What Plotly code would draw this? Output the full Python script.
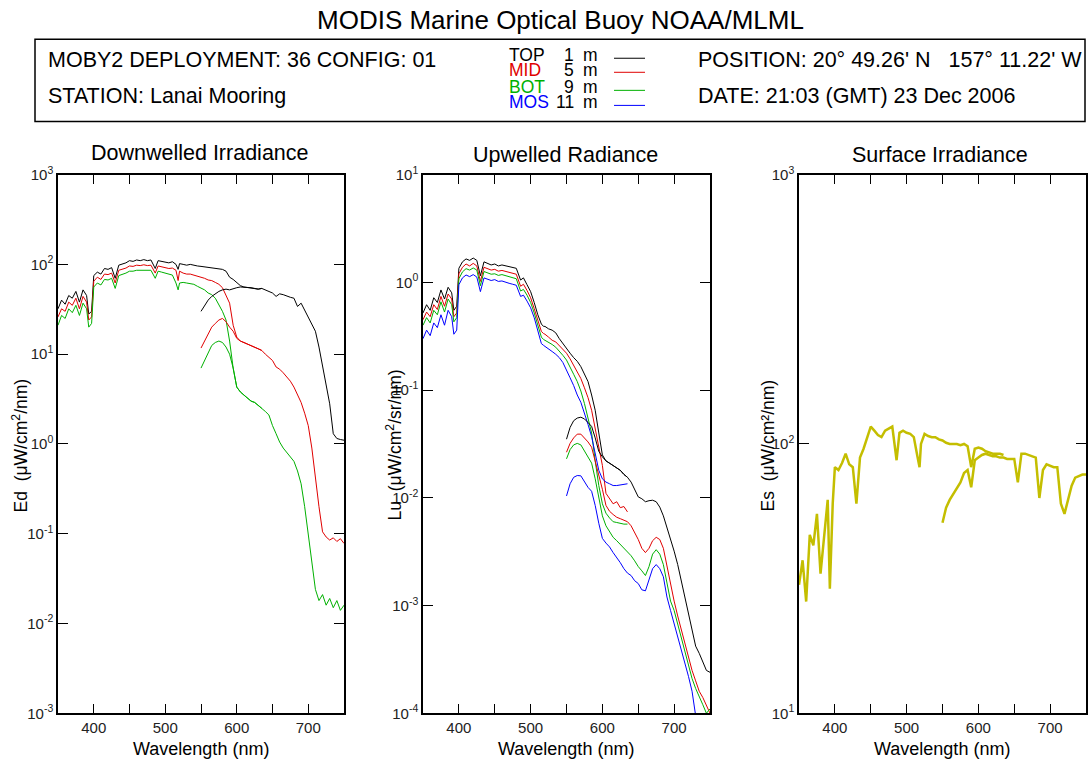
import plotly.graph_objects as go

W, H = 1088, 761

# ---------------- data ----------------
# blue-spectrograph wavelength grid (nm)
WL_BLUE = [350, 355, 360, 365, 370, 375, 380, 385, 390, 393,
           397, 400, 405, 410, 415, 420, 425, 430, 435, 440,
           445, 450, 455, 460, 465, 470, 475, 480, 486, 490,
           495, 500, 505, 510, 515, 518, 520, 525, 530, 535,
           540, 545, 550, 555, 560, 565, 570, 575, 580, 585,
           590, 595, 600, 605, 610, 615, 620, 625, 630, 635]
# red-spectrograph wavelength grid (nm)
WL_RED = [550, 555, 560, 565, 570, 575, 580, 585, 590, 595,
          600, 605, 610, 615, 620, 625, 630, 635, 640, 645,
          650, 655, 660, 665, 670, 675, 680, 685, 690, 695,
          700, 705, 710, 715, 720, 725, 730, 735, 740, 745,
          750]

# Downwelled irradiance Ed, blue spectrograph
ED_TOP_B = [32, 40, 36, 45, 42, 50, 38, 52, 45, 28,
            30, 75, 82, 78, 90, 88, 92, 70, 98, 100,
            104, 110, 108, 112, 110, 113, 110, 112, 90, 110,
            108, 106, 104, 107, 100, 88, 102, 100, 98, 100,
            97, 96, 95, 94, 93, 92, 91, 90, 88, 84,
            72, 68, 62, 58, 56, 55, 55, 54, 53, 54]
ED_MID_B = [26, 32, 30, 38, 35, 42, 32, 44, 38, 24,
            26, 65, 72, 68, 78, 77, 80, 62, 86, 88,
            91, 96, 95, 98, 97, 99, 97, 98, 80, 96,
            94, 92, 90, 91, 86, 66, 84, 80, 78, 78,
            76, 74, 72, 70, 67, 66, 63, 60, 55, 46,
            37, 21, 15.5, 14, 13.5, 13, 12.5, 12, 11.5, 11]
ED_BOT_B = [21, 27, 25, 32, 29, 35, 27, 37, 32, 20,
            22, 56, 62, 59, 68, 67, 70, 54, 75, 77,
            80, 84, 84, 86, 86, 87, 86, 86, 70, 84,
            82, 80, 78, 76, 62, 52, 62, 63, 62, 61,
            60, 57, 55, 52, 48, 46, 42, 36, 30, 24,
            14, 7, 4.3, 3.8, 3.5, 3.2, 3.0, 2.9, 2.7, 2.5]
# Ed, red spectrograph
ED_TOP_R = [30, 35, 40, 44, 47, 50, 52, 53, 52, 54,
            55, 56, 56, 55, 55, 54, 53, 54, 52, 50,
            48, 44, 47, 46, 44, 43, 42, 34, 37, 31,
            26, 22, 18, 12, 7.5, 4.5, 2.8, 1.3, 1.15, 1.12,
            1.1]
ED_MID_R = [11.7, 14, 17, 20, 22, 24, 25, 23, 20, 18,
            15, 14, 13.5, 13, 12.5, 12, 11.5, 11, 10, 9.3,
            8.5, 7.2, 6.8, 6.2, 5.6, 5.0, 4.3, 3.5, 2.9, 2.2,
            1.6, 0.9, 0.4, 0.2, 0.105, 0.092, 0.085, 0.09, 0.082, 0.088,
            0.078]
ED_BOT_R = [7, 8.5, 10.5, 12.5, 13.5, 14, 13.5, 12, 10, 7,
            4.3, 3.8, 3.5, 3.2, 3.0, 2.9, 2.7, 2.5, 2.3, 2.1,
            1.6, 1.3, 1.05, 0.9, 0.8, 0.72, 0.64, 0.5, 0.36, 0.2,
            0.1, 0.045, 0.024, 0.018, 0.021, 0.016, 0.019, 0.015, 0.018, 0.014,
            0.016]

# Upwelled radiance Lu, blue spectrograph
LU_TOP_B = [0.52, 0.62, 0.55, 0.72, 0.65, 0.85, 0.7, 0.9, 0.8, 0.55,
            0.6, 1.35, 1.55, 1.65, 1.6, 1.68, 1.6, 1.15, 1.55, 1.5,
            1.45, 1.48, 1.42, 1.45, 1.42, 1.4, 1.38, 1.35, 1.05, 1.1,
            0.95, 0.82, 0.65, 0.5, 0.41, 0.39, 0.39, 0.37, 0.36, 0.34,
            0.3, 0.27, 0.24, 0.22, 0.2, 0.185, 0.165, 0.14, 0.12, 0.09,
            0.065, 0.04, 0.025, 0.022, 0.021, 0.02, 0.019, 0.018, 0.0165, 0.0155]
LU_MID_B = [0.45, 0.53, 0.48, 0.62, 0.56, 0.74, 0.6, 0.78, 0.7, 0.48,
            0.52, 1.2, 1.38, 1.48, 1.42, 1.5, 1.42, 1.02, 1.38, 1.34,
            1.3, 1.32, 1.27, 1.29, 1.26, 1.24, 1.22, 1.19, 0.92, 0.96,
            0.84, 0.72, 0.57, 0.44, 0.35, 0.335, 0.33, 0.31, 0.29, 0.28,
            0.26, 0.24, 0.22, 0.195, 0.17, 0.145, 0.128, 0.105, 0.085, 0.065,
            0.045, 0.03, 0.02, 0.011, 0.0098, 0.0088, 0.0092, 0.0081, 0.0083, 0.0074]
LU_BOT_B = [0.4, 0.47, 0.42, 0.55, 0.5, 0.66, 0.53, 0.7, 0.62, 0.43,
            0.47, 1.08, 1.25, 1.34, 1.3, 1.36, 1.3, 0.93, 1.26, 1.22,
            1.19, 1.2, 1.16, 1.18, 1.15, 1.13, 1.11, 1.08, 0.83, 0.86,
            0.76, 0.65, 0.52, 0.39, 0.31, 0.295, 0.29, 0.28, 0.265, 0.25,
            0.23, 0.21, 0.19, 0.165, 0.14, 0.12, 0.098, 0.075, 0.055, 0.04,
            0.022, 0.013, 0.0088, 0.0072, 0.0065, 0.006, 0.0059, 0.0058, 0.0057, 0.0057]
LU_MOS_B = [0.3, 0.36, 0.32, 0.42, 0.38, 0.5, 0.4, 0.55, 0.48, 0.33,
            0.36, 0.95, 1.1, 1.17, 1.13, 1.18, 1.12, 0.82, 1.1, 1.07,
            1.04, 1.06, 1.02, 1.03, 1.0, 0.98, 0.96, 0.94, 0.74, 0.76,
            0.67, 0.58, 0.47, 0.35, 0.27, 0.26, 0.255, 0.24, 0.228, 0.215,
            0.2, 0.18, 0.155, 0.13, 0.11, 0.09, 0.077, 0.062, 0.048, 0.037,
            0.025, 0.018, 0.015, 0.014, 0.0135, 0.013, 0.013, 0.0131, 0.0133, 0.0135]
# Lu, red spectrograph
LU_TOP_R = [0.035, 0.045, 0.052, 0.055, 0.056, 0.054, 0.05, 0.046, 0.036, 0.027,
            0.024, 0.022, 0.021, 0.02, 0.019, 0.018, 0.0165, 0.0155, 0.014, 0.012,
            0.0102, 0.0098, 0.0092, 0.0094, 0.0095, 0.0092, 0.0082, 0.0068, 0.0053, 0.0042,
            0.0032, 0.0024, 0.0017, 0.0012, 0.00085, 0.0006, 0.00042, 0.00036, 0.0003, 0.00025,
            0.00024]
LU_MID_R = [0.0265, 0.032, 0.036, 0.039, 0.039, 0.036, 0.033, 0.0295, 0.022, 0.016,
            0.012, 0.0085, 0.0075, 0.007, 0.0066, 0.0064, 0.0062, 0.006, 0.0055, 0.0048,
            0.0041, 0.0034, 0.0031, 0.0034, 0.004, 0.0043, 0.0041, 0.0034, 0.0023, 0.0015,
            0.0011, 0.0008, 0.0006, 0.00045, 0.00033, 0.00025, 0.0002, 0.00016, 0.00014, 0.00012,
            0.0001]
LU_BOT_R = [0.023, 0.028, 0.031, 0.032, 0.031, 0.027, 0.024, 0.021, 0.015, 0.01,
            0.0068, 0.0055, 0.0048, 0.0043, 0.004, 0.0037, 0.0034, 0.0031, 0.0029, 0.0026,
            0.0023, 0.0021, 0.0019, 0.0023, 0.003, 0.0033, 0.003, 0.0024, 0.0016, 0.0011,
            0.0009, 0.00068, 0.0005, 0.00038, 0.00028, 0.00021, 0.00017, 0.00014, 0.00012, 0.0001,
            0.00011]
LU_MOS_R = [0.0104, 0.0135, 0.0155, 0.0161, 0.016, 0.014, 0.0125, 0.0115, 0.0085, 0.0058,
            0.0042, 0.0038, 0.0035, 0.0031, 0.0028, 0.0025, 0.0022, 0.002, 0.0019, 0.0017,
            0.0016, 0.0014, 0.00137, 0.0017, 0.0022, 0.0024, 0.0022, 0.00185, 0.0012, 0.0009,
            0.00068, 0.0005, 0.0004, 0.0003, 0.00022, 0.00016, 0.000095, 0.00007, 0.00005, 0.00004,
            0.00003]

# Surface irradiance Es
ES_B = [30, 37, 26, 46, 42, 55, 33, 45, 62, 29,
        60, 82, 80, 85, 92, 84, 82, 60, 89, 96,
        106, 116, 112, 108, 106, 112, 114, 116, 87, 110,
        112, 110, 109, 106, 90, 82, 100, 109, 107, 106,
        106, 104, 103, 101, 100, 100, 100, 99, 100, 98,
        82, 96, 97, 96, 94, 93, 92, 92, 92, 91]
ES_R = [51, 58, 62, 65, 68, 72, 78, 80, 69, 87,
        89, 91, 92, 91, 90, 90, 89, 89, 88, 88,
        88, 72, 92, 92, 91, 90, 89, 63, 80, 84,
        83, 82, 82, 60, 55, 62, 70, 75, 76, 77,
        77]

DEPTHS = ["TOP", "MID", "BOT", "MOS"]
DEPTH_M = ["1", "5", "9", "11"]
COLORS = ["#000000", "#E00000", "#00B000", "#0000FF"]
ES_COLOR = "#C4BE00"

X_TICKS = [400, 450, 500, 550, 600, 650, 700]
X_TICKTEXT = ["400", "", "500", "", "600", "", "700"]
Y_EXPONENTS = [[-3, -2, -1, 0, 1, 2, 3], [-4, -3, -2, -1, 0, 1], [1, 2, 3]]

# ---------------- figure ----------------
FONT = "Liberation Sans, Arial, sans-serif"
# vertical calibration of the photographed page (measured from earlier renders)
OY, SY = 11.9, 0.972


def fx(p):
    return p / W


def fy(p):
    return 1 - ((p - OY) / SY) / H


fig = go.Figure()


def add(axn, x, y, color, width=1.0):
    fig.add_trace(go.Scatter(
        x=x, y=y, mode="lines", line=dict(color=color, width=width),
        xaxis="x" + ("" if axn == 1 else str(axn)),
        yaxis="y" + ("" if axn == 1 else str(axn)),
        showlegend=False, hoverinfo="skip"))


# Ed
for ser, col in zip([ED_TOP_B, ED_MID_B, ED_BOT_B], COLORS):
    add(1, WL_BLUE, ser, col)
for ser, col in zip([ED_TOP_R, ED_MID_R, ED_BOT_R], COLORS):
    add(1, WL_RED, ser, col)
# Lu
for ser, col in zip([LU_TOP_B, LU_MID_B, LU_BOT_B, LU_MOS_B], COLORS):
    add(2, WL_BLUE, ser, col)
for ser, col in zip([LU_TOP_R, LU_MID_R, LU_BOT_R, LU_MOS_R], COLORS):
    add(2, WL_RED, ser, col)
# Es
add(3, WL_BLUE, ES_B, ES_COLOR, 2.5)
add(3, WL_RED, ES_R, ES_COLOR, 2.5)

XDOM = [[58, 344], [423, 710], [799, 1086]]
YDOM = [fy(712), fy(175)]

axis_common = dict(showline=True, linecolor="black", linewidth=1.5, mirror="ticks",
                   ticks="inside", ticklen=10, tickwidth=1, tickcolor="black",
                   showgrid=False, zeroline=False,
                   tickfont=dict(family=FONT, size=15, color="#222222"))

layout = dict(width=W, height=H, margin=dict(l=0, r=0, t=0, b=0),
              paper_bgcolor="white", plot_bgcolor="white", showlegend=False)
for i in range(3):
    s = "" if i == 0 else str(i + 1)
    exps = Y_EXPONENTS[i]
    layout["xaxis" + s] = dict(domain=[fx(XDOM[i][0]), fx(XDOM[i][1])], anchor="y" + s,
                               range=[350, 750], tickvals=X_TICKS, ticktext=X_TICKTEXT,
                               **axis_common)
    layout["yaxis" + s] = dict(domain=YDOM, anchor="x" + s, type="log",
                               range=[exps[0], exps[-1]],
                               tickvals=[10.0 ** e for e in exps],
                               ticktext=["10<sup>%d</sup>" % e for e in exps],
                               **axis_common)
fig.update_layout(**layout)

ann = []


def text(x, y, t, size, color="black", xanchor="center", angle=0):
    ann.append(dict(x=fx(x), y=fy(y), xref="paper", yref="paper", text=t,
                    showarrow=False, xanchor=xanchor, yanchor="middle",
                    textangle=angle, font=dict(family=FONT, size=size, color=color)))


NB = "\u00a0"
text(560, 21, "MODIS Marine Optical Buoy NOAA/MLML", 26)
text(46, 61, "MOBY2 DEPLOYMENT: 36 CONFIG: 01", 21.5, xanchor="left")
text(46, 97, "STATION: Lanai Mooring", 21.5, xanchor="left")
text(696, 61, "POSITION: 20° 49.26' N" + NB * 3 + "157° 11.22' W", 21.5, xanchor="left")
text(696, 97, "DATE: 21:03 (GMT) 23 Dec 2006", 21.5, xanchor="left")

leg_y = [56, 71, 88, 103]
line_y = [59, 73, 91, 106]
shapes = [dict(type="rect", xref="paper", yref="paper", x0=fx(35), x1=fx(1085),
               y0=fy(122), y1=fy(40), line=dict(color="black", width=1.5))]
for name, dm, col, ly, lny in zip(DEPTHS, DEPTH_M, COLORS, leg_y, line_y):
    text(507, ly, name, 17.5, color=col, xanchor="left")
    text(576, ly, dm, 17.5, xanchor="right")
    text(581, ly, "m", 17.5, xanchor="left")
    shapes.append(dict(type="line", xref="paper", yref="paper", x0=fx(614), x1=fx(645),
                       y0=fy(lny), y1=fy(lny), line=dict(color=col, width=1)))

text(200, 153, "Downwelled Irradiance", 21.5)
text(565, 155, "Upwelled Radiance", 21.5)
text(940, 155, "Surface Irradiance", 21.5)
for cx in [201, 566, 942]:
    text(cx, 748, "Wavelength (nm)", 18)
text(20, 445, "Ed" + NB * 2 + "(μW/cm<sup>2</sup>/nm)", 17.5, angle=-90)
text(394, 445, "Lu" + NB * 2 + "(μW/cm<sup>2</sup>/sr/nm)", 17.5, angle=-90)
text(768, 445, "Es" + NB * 2 + "(μW/cm²/nm)", 17.5, angle=-90)

fig.update_layout(annotations=ann, shapes=shapes)
fig.write_html(
    "out.html",
    config={"responsive": False, "displayModeBar": False},
    post_script=(
        "var gd=document.getElementById('{plot_id}');"
        "gd.style.position='fixed';gd.style.top='0px';gd.style.left='0px';"
        "gd.style.margin='0';"
        "document.documentElement.style.margin='0';"
        "document.body.style.margin='0';document.body.style.padding='0';"
        "document.documentElement.style.overflow='hidden';"
        "document.body.style.overflow='hidden';"
        "document.body.style.height='761px';"
        "document.documentElement.style.height='761px';"
    ),
)
